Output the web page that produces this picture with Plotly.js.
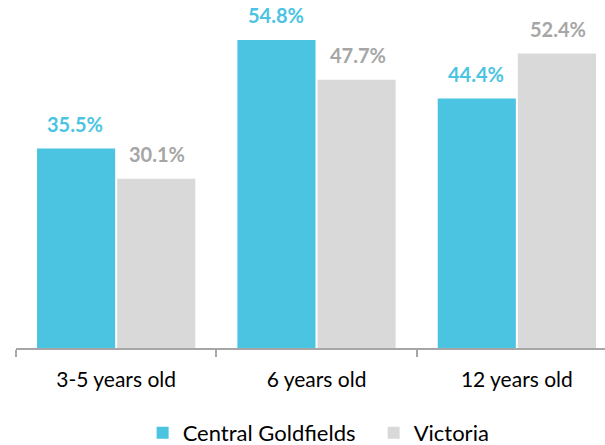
<!DOCTYPE html>
<html>
<head>
<meta charset="utf-8">
<script src="https://cdn.plot.ly/plotly-3.0.1.min.js"></script>
<style>
  html, body { margin: 0; padding: 0; background: #ffffff; }
  #chart { width: 605px; height: 445px; }
</style>
</head>
<body>
<div id="chart"></div>
<script>
const categories = ["3-5 years old", "6 years old", "12 years old"];
const centralGoldfields = [35.5, 54.8, 44.4];
const victoria = [30.1, 47.7, 52.4];
const seriesNames = ["Central Goldfields", "Victoria"];

const BLUE = "#4BC4E2";
const GREY = "#D9D9D9";
const GREY_TXT = "#A6A6A6";
const FONT = "Lato, 'Open Sans', sans-serif";

const traces = [
  { type: "bar", name: seriesNames[0], x: categories, y: centralGoldfields,
    marker: { color: BLUE }, hoverinfo: "skip" },
  { type: "bar", name: seriesNames[1], x: categories, y: victoria,
    marker: { color: GREY }, hoverinfo: "skip" }
];

const annotations = [];
categories.forEach((c, i) => {
  annotations.push({ x: c, y: centralGoldfields[i], xref: "x", yref: "y",
    text: centralGoldfields[i].toFixed(1) + "%", showarrow: false,
    xshift: -41, yshift: 24.5, yanchor: "middle",
    font: { family: FONT, size: 20, color: BLUE, weight: "bold" } });
  annotations.push({ x: c, y: victoria[i], xref: "x", yref: "y",
    text: victoria[i].toFixed(1) + "%", showarrow: false,
    xshift: 41, yshift: 24.5, yanchor: "middle",
    font: { family: FONT, size: 20, color: GREY_TXT, weight: "bold" } });
});

const layout = {
  width: 605, height: 445,
  margin: { l: 16, r: 0, t: 0, b: 97, autoexpand: false },
  paper_bgcolor: "#ffffff", plot_bgcolor: "#ffffff",
  font: { family: FONT, size: 21, color: "#000000" },
  barmode: "group", bargap: 0.2, bargroupgap: 0.025,
  showlegend: true,
  legend: { orientation: "h", x: 0.215, xanchor: "left", y: -0.244, yanchor: "middle",
    entrywidth: 186, entrywidthmode: "pixels",
    font: { family: FONT, size: 22, color: "#000000" } },
  xaxis: { type: "category", range: [-0.5, 2.44], tickson: "boundaries",
    ticks: "outside", ticklen: 7, tickwidth: 2, tickcolor: "#A6A6A6",
    showline: true, linecolor: "#A6A6A6", linewidth: 2, showgrid: false,
    ticklabelstandoff: 12,
    tickfont: { family: FONT, size: 21, color: "#000000" }, fixedrange: true },
  yaxis: { visible: false, range: [0, 61.9], showgrid: false, zeroline: false, fixedrange: true },
  annotations: annotations
};

Plotly.newPlot("chart", traces, layout, { displayModeBar: false, staticPlot: true });
</script>
</body>
</html>
